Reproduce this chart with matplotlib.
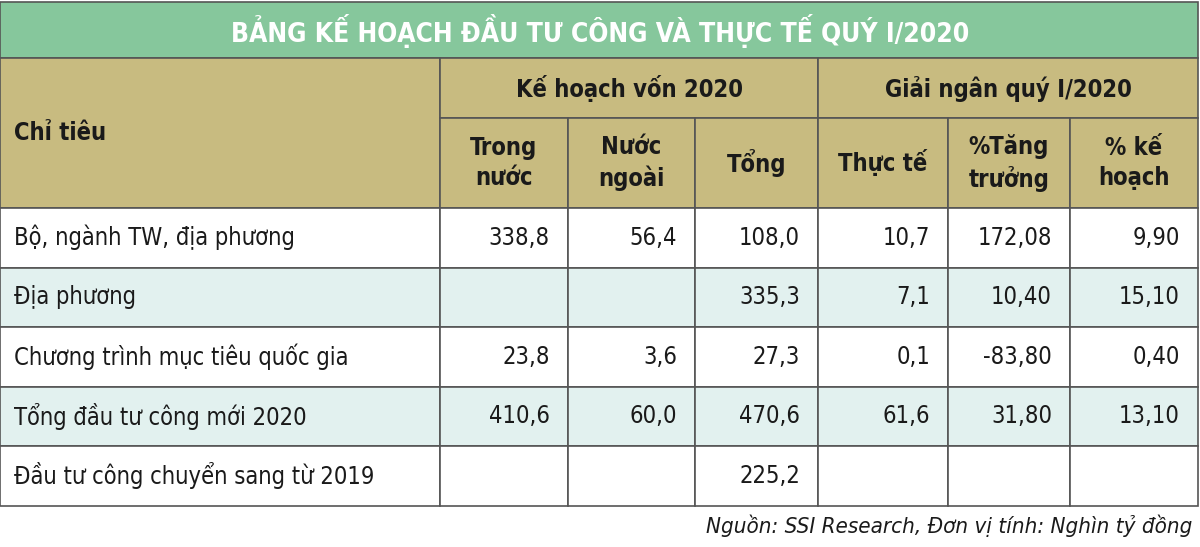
import matplotlib.pyplot as plt
from matplotlib.patches import Rectangle

plt.rcParams['font.family'] = ['DejaVu Sans']
plt.rcParams['font.stretch'] = 'condensed'

title = "BẢNG KẾ HOẠCH ĐẦU TƯ CÔNG VÀ THỰC TẾ QUÝ I/2020"
group_labels = ["Kế hoạch vốn 2020", "Giải ngân quý I/2020"]
sub_labels = ["Trong\nnước", "Nước\nngoài", "Tổng", "Thực tế", "%Tăng\ntrưởng", "% kế\nhoạch"]
row_labels = ["Bộ, ngành TW, địa phương", "Địa phương", "Chương trình mục tiêu quốc gia",
              "Tổng đầu tư công mới 2020", "Đầu tư công chuyển sang từ 2019"]
trong_nuoc = ["338,8", "", "23,8", "410,6", ""]
nuoc_ngoai = ["56,4", "", "3,6", "60,0", ""]
tong = ["108,0", "335,3", "27,3", "470,6", "225,2"]
thuc_te = ["10,7", "7,1", "0,1", "61,6", ""]
tang_truong = ["172,08", "10,40", "-83,80", "31,80", ""]
ke_hoach = ["9,90", "15,10", "0,40", "13,10", ""]
source = "Nguồn: SSI Research, Đơn vị tính: Nghìn tỷ đồng"

cols = [0, 440, 568, 695, 818, 948, 1070, 1198]
green = '#86c79c'
khaki = '#c8bb80'
light = '#e2f1ef'
edge = '#555555'
text_c = '#1a1a1a'

fig = plt.figure(figsize=(12, 5.47), dpi=100)
ax = fig.add_axes([0, 0, 1, 1])
ax.set_xlim(0, 1200)
ax.set_ylim(547, 0)
ax.axis('off')

def box(x0, y0, x1, y1, fc):
    ax.add_patch(Rectangle((x0, y0), x1 - x0, y1 - y0, facecolor=fc, edgecolor=edge, lw=1.2))

# title bar
box(0, 2, 1198, 58, green)
ax.text(600, 31, title, ha='center', va='center', fontsize=19, weight='bold', color='white')

# header
box(0, 58, 440, 208, khaki)
ax.text(14, 133, "Chỉ tiêu", ha='left', va='center', fontsize=17, weight='bold', color=text_c)
box(440, 58, 818, 118, khaki)
box(818, 58, 1198, 118, khaki)
ax.text(629, 89, group_labels[0], ha='center', va='center', fontsize=17, weight='bold', color=text_c)
ax.text(1008, 89, group_labels[1], ha='center', va='center', fontsize=17, weight='bold', color=text_c)
for i, lab in enumerate(sub_labels):
    box(cols[i + 1], 118, cols[i + 2], 208, khaki)
    ax.text((cols[i + 1] + cols[i + 2]) / 2, 163, lab, ha='center', va='center', fontsize=17,
            weight='bold', color=text_c, linespacing=1.3)

# body
data_cols = [trong_nuoc, nuoc_ngoai, tong, thuc_te, tang_truong, ke_hoach]
row_h = 59.5
for r, lab in enumerate(row_labels):
    y0 = 208 + r * row_h
    y1 = y0 + row_h
    fc = light if r % 2 == 1 else 'white'
    yc = (y0 + y1) / 2
    for c in range(len(cols) - 1):
        box(cols[c], y0, cols[c + 1], y1, fc)
    ax.text(14, yc, lab, ha='left', va='center', fontsize=17, color=text_c)
    for c, vals in enumerate(data_cols):
        ax.text(cols[c + 2] - 18, yc, vals[r], ha='right', va='center', fontsize=17, color=text_c)

ax.text(1192, 526, source, ha='right', va='center', fontsize=16, style='italic', color=text_c)

fig.savefig('out.png', dpi=100, facecolor='white')
